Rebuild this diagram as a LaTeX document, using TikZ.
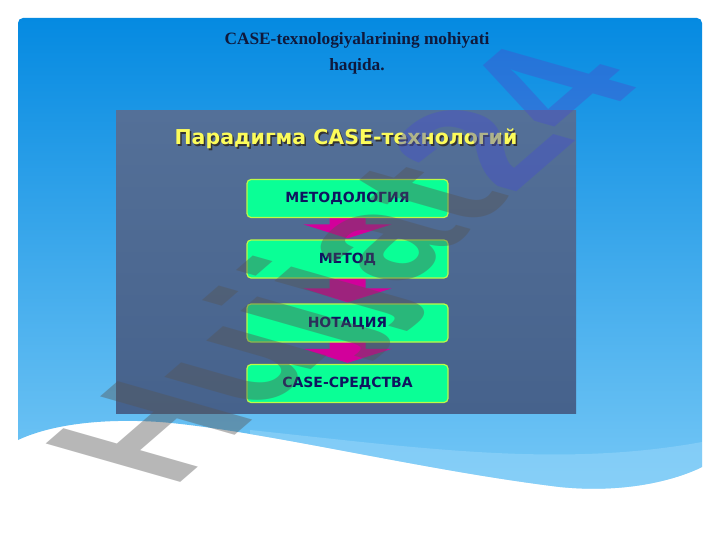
\documentclass[tikz,border=0pt]{standalone}
\usepackage{fontspec}
\setmainfont{Liberation Serif}
\newfontfamily\slidesans{DejaVu Sans}
\newfontfamily\marksans{Liberation Sans}
\usetikzlibrary{backgrounds,calc}

\pgfdeclarelayer{back}
\pgfsetlayers{back,background,main}

\definecolor{slidetop}{RGB}{5,138,225}
\definecolor{slidebot}{RGB}{118,200,246}
\definecolor{bandblue}{RGB}{150,214,250}
\definecolor{pictop}{RGB}{84,112,152}
\definecolor{picbot}{RGB}{70,98,140}
\definecolor{boxgreen}{RGB}{10,255,150}
\definecolor{boxrim}{RGB}{190,250,70}
\definecolor{boxtext}{RGB}{15,20,95}
\definecolor{arrowpink}{RGB}{210,0,155}
\definecolor{titleyellow}{RGB}{252,252,90}
\definecolor{headnavy}{RGB}{15,25,60}
\definecolor{markgray}{RGB}{85,85,85}
\definecolor{markblue}{RGB}{70,80,205}

\tikzset{
  stepbox/.style={draw=boxrim, line width=1.2pt, fill=boxgreen, rounded corners=4pt,
    minimum width=201pt, minimum height=38pt, inner sep=0pt,
    font=\slidesans\bfseries\fontsize{14}{14}\selectfont, text=boxtext},
  headline/.style={anchor=base, inner sep=0pt, text=headnavy,
    font=\bfseries\fontsize{17.3}{17.3}\selectfont},
  pictitle/.style={inner sep=0pt, font=\slidesans\bfseries\fontsize{20.5}{20.5}\selectfont},
  downarrow/.style={fill=arrowpink},
  watermark/.style={transform shape, inner sep=0pt, anchor=base west,
    font=\marksans\bfseries\fontsize{100}{100}\selectfont, text opacity=0.42}
}

\newcommand{\slideoutline}{[rounded corners=5pt] (18,440) -- (18,18) -- (702,18) [sharp corners] -- (702,467)
  .. controls (680,478) and (630,494) .. (560,487)
  .. controls (420,470) and (260,430) .. (160,422)
  .. controls (100,418) and (50,425) .. (18,440) -- cycle}

\begin{document}
\begin{tikzpicture}[x=1pt,y=-1pt]
  \begin{pgfonlayer}{back}
    \fill[white] (0,0) rectangle (720,540);
    \shade[top color=slidetop, bottom color=slidebot] \slideoutline;
    \begin{scope}
      \clip \slideoutline;
      \fill[bandblue, opacity=0.55] (250,430) .. controls (420,448) and (560,468) .. (702,442)
        -- (702,500) -- (250,500) -- cycle;
    \end{scope}
    \shade[top color=pictop, bottom color=picbot] (116,111) rectangle (576,413);
  \end{pgfonlayer}
  \useasboundingbox (0,0) rectangle (720,540);

  \node[headline] (head1) at (357,45) {CASE-texnologiyalarining mohiyati};
  \node[headline] (head2) at (357,71) {haqida.};

  \node[pictitle, text=black!80] (ptitleshade) at (347.5,140.5) {Парадигма CASE-технологий};
  \node[pictitle, text=titleyellow] (ptitle) at (346,139) {Парадигма CASE-технологий};

  \node[stepbox] (m1) at (347.5,198.5) {МЕТОДОЛОГИЯ};
  \node[stepbox] (m2) at (347.5,259) {МЕТОД};
  \node[stepbox] (m3) at (347.5,323) {НОТАЦИЯ};
  \node[stepbox] (m4) at (347.5,383.5) {CASE-СРЕДСТВА};

  \begin{pgfonlayer}{background}
    \foreach \a/\b in {m1/m2,m2/m3,m3/m4}
      \fill[downarrow] ($(\a.south)+(-18,-3)$) -- ($(\a.south)+(18,-3)$)
        -- ($(\b.north)+(18,-15)$) -- ($(\b.north)+(44,-15)$) -- ($(\b.north)+(0,-1)$)
        -- ($(\b.north)+(-44,-15)$) -- ($(\b.north)+(-18,-15)$) -- cycle;
  \end{pgfonlayer}

  \begin{scope}[shift={(172,490)}, cm={1.225,1.061,-1.956,0.559,(0,0)}]
    \node[watermark] (wm) at (0,0) {{\color{markgray}Hujjat}{\color{markblue}24}};
  \end{scope}
\end{tikzpicture}
\end{document}
